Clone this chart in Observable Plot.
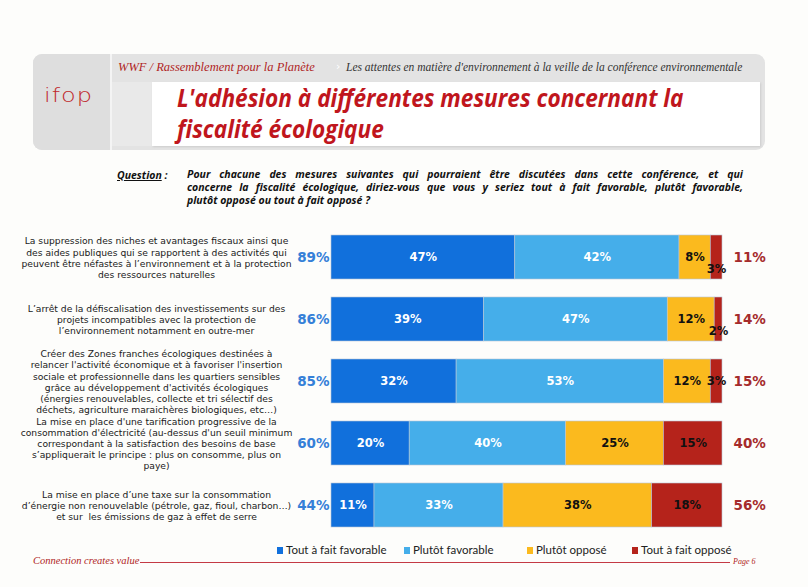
<!DOCTYPE html>
<html>
<head>
<meta charset="utf-8">
<script src="https://cdn.jsdelivr.net/npm/d3@7"></script>
<script src="https://cdn.jsdelivr.net/npm/@observablehq/plot@0.6"></script>
<style>
  html, body { margin: 0; padding: 0; background: #fdfdfb; }
  #page { position: relative; width: 808px; height: 587px; overflow: hidden; }
  .abs { position: absolute; }
  #hdr { left: 33px; top: 54px; width: 732px; height: 96px; background: #e3e3e3; border-radius: 9px; }
  #leftcol { left: 33px; top: 54px; width: 77px; height: 96px; background: #dedede; border-radius: 9px 0 0 9px; border-right: 2px solid #f4f4f4; }
  #logo { left: 44px; top: 84px; font-family: "DejaVu Sans", sans-serif; font-weight: 200; font-size: 24px; color: #c0282c; letter-spacing: 1px; transform: scaleY(0.8); transform-origin: left top; }
  #strip1 { left: 118px; top: 60px; font-family: "Liberation Serif", serif; font-style: italic; font-size: 12.5px; color: #b01e24; }
  #strip2 { left: 346px; top: 61px; font-family: "Liberation Serif", serif; font-style: italic; font-size: 11.5px; color: #333; }
  #sep { left: 336px; top: 60px; font-size: 11px; color: #fff; font-family: "DejaVu Sans"; }
  #graybox { left: 112px; top: 82px; width: 40px; height: 64px; background: #e9e9e9; }
  #whitebox { left: 152px; top: 82px; width: 608px; height: 64px; background: #fff; box-shadow: 1px 1px 2px #ccc; }
  #title { left: 177px; top: 82px; font-family: "Open Sans", sans-serif; font-weight: 700; font-style: italic; font-size: 25px; line-height: 31px; color: #c0161d; transform: scaleX(0.905); transform-origin: left top; white-space: nowrap; }
  #qlabel { left: 117px; top: 168px; font-family: "Open Sans", sans-serif; font-weight: 700; font-style: italic; font-size: 10.5px; color: #111; }
  #qlabel u { text-decoration: underline; }
  #qtext { left: 187px; top: 168px; width: 556px; font-family: "Open Sans", sans-serif; font-weight: 700; font-style: italic; font-size: 10.5px; line-height: 13px; color: #111; }
  #qtext div { text-align: justify; text-align-last: justify; white-space: nowrap; }
  #qtext div.last { text-align-last: left; }
  #plot { left: 0; top: 220px; }
  #legend { left: 0; top: 543px; width: 808px; font-family: Lato, sans-serif; font-size: 11.5px; color: #222; }
  .lg { position: absolute; white-space: nowrap; }
  .sw { display: inline-block; width: 6px; height: 7px; margin-right: 3px; vertical-align: 0px; }
  #footl { left: 33px; top: 555px; font-family: "Liberation Serif", serif; font-style: italic; font-size: 10.5px; color: #b01e24; }
  #footline { left: 140px; top: 562px; width: 590px; height: 1px; background: #c43a45; }
  #footr { left: 733px; top: 557px; font-family: "Liberation Serif", serif; font-style: italic; font-size: 8px; color: #b01e24; }
</style>
</head>
<body>
<div id="page">
  <div id="hdr" class="abs"></div>
  <div id="leftcol" class="abs"></div>
  <div id="logo" class="abs">ifop</div>
  <div id="strip1" class="abs">WWF / Rassemblement pour la Planète</div>
  <div id="sep" class="abs">›</div>
  <div id="strip2" class="abs">Les attentes en matière d'environnement à la veille de la conférence environnementale</div>
  <div id="graybox" class="abs"></div>
  <div id="whitebox" class="abs"></div>
  <div id="title" class="abs">L'adhésion à différentes mesures concernant la<br>fiscalité écologique</div>
  <div id="qlabel" class="abs"><u>Question</u> :</div>
  <div id="qtext" class="abs">
    <div>Pour chacune des mesures suivantes qui pourraient être discutées dans cette conférence, et qui</div>
    <div>concerne la fiscalité écologique, diriez-vous que vous y seriez tout à fait favorable, plutôt favorable,</div>
    <div class="last">plutôt opposé ou tout à fait opposé ?</div>
  </div>
  <div id="plot" class="abs"></div>
  <div id="legend" class="abs"></div>
  <div id="footl" class="abs">Connection creates value</div>
  <div id="footline" class="abs"></div>
  <div id="footr" class="abs">Page 6</div>
</div>
<script>
const categories = [
  "La suppression des niches et avantages fiscaux ainsi que\ndes aides publiques qui se rapportent à des activités qui\npeuvent être néfastes à l’environnement et à la protection\ndes ressources naturelles",
  "L’arrêt de la défiscalisation des investissements sur des\nprojets incompatibles avec la protection de\nl’environnement notamment en outre-mer",
  "Créer des Zones franches écologiques destinées à\nrelancer l'activité économique et à favoriser l'insertion\nsociale et professionnelle dans les quartiers sensibles\ngrâce au développement d'activités écologiques\n(énergies renouvelables, collecte et tri sélectif des\ndéchets, agriculture maraichères biologiques, etc…)",
  "La mise en place d'une tarification progressive de la\nconsommation d'électricité (au-dessus d'un seuil minimum\ncorrespondant à la satisfaction des besoins de base\ns’appliquerait le principe : plus on consomme, plus on\npaye)",
  "La mise en place d’une taxe sur la consommation\nd’énergie non renouvelable (pétrole, gaz, fioul, charbon…)\net sur  les émissions de gaz à effet de serre"
];
const seriesNames = ["Tout à fait favorable", "Plutôt favorable", "Plutôt opposé", "Tout à fait opposé"];
const seriesColors = ["#1170dc", "#45aeea", "#fbba1e", "#b5231b"];
const toutFavorable = [47, 39, 32, 20, 11];
const plutotFavorable = [42, 47, 53, 40, 33];
const plutotOppose = [8, 12, 12, 25, 38];
const toutOppose = [3, 2, 3, 15, 18];
const totalFavorable = [89, 86, 85, 60, 44];
const totalOppose = [11, 14, 15, 40, 56];

const seriesValues = [toutFavorable, plutotFavorable, plutotOppose, toutOppose];
const segs = [];
categories.forEach((cat, i) => {
  let acc = 0;
  seriesValues.forEach((vals, s) => {
    const v = vals[i];
    segs.push({cat, row: i, series: seriesNames[s], s, value: v, x1: acc, x2: acc + v, mid: acc + v / 2});
    acc += v;
  });
});
const totals = categories.map((cat, i) => ({cat, fav: totalFavorable[i], opp: totalOppose[i]}));

const plot = Plot.plot({
  width: 808,
  height: 322,
  marginLeft: 331,
  marginRight: 86,
  marginTop: 0,
  marginBottom: 0,
  x: {domain: [0, 100], axis: null},
  y: {domain: categories, axis: null, paddingInner: 0.2857, paddingOuter: 0.2},
  color: {domain: seriesNames, range: seriesColors},
  style: {background: "transparent", overflow: "visible"},
  marks: [
    Plot.barX(segs, {x1: "x1", x2: "x2", y: "cat", fill: "series", stroke: "#b9c6d6", strokeWidth: 0.6}),
    Plot.text(segs.filter(d => d.s < 2), {x: "mid", y: "cat", text: d => d.value + "%", fill: "white", fontFamily: "DejaVu Sans", fontWeight: "bold", fontSize: 11.5}),
    Plot.text(segs.filter(d => d.s >= 2 && !(d.value < 5 && d.row < 2)), {x: "mid", y: "cat", text: d => d.value + "%", fill: "#111", fontFamily: "DejaVu Sans", fontWeight: "bold", fontSize: 11.5}),
    Plot.text(segs.filter(d => d.s >= 2 && d.value < 5 && d.row < 2), {x: "mid", y: "cat", dy: 12, text: d => d.value + "%", fill: "#111", fontFamily: "DejaVu Sans", fontWeight: "bold", fontSize: 11.5}),
    Plot.text(totals, {x: 0, y: "cat", text: d => d.fav + "%", textAnchor: "end", dx: -2, fill: "#3580d8", fontFamily: "DejaVu Sans", fontWeight: "bold", fontSize: 13.5}),
    Plot.text(totals, {x: 100, y: "cat", text: d => d.opp + "%", textAnchor: "start", dx: 11, fill: "#a52b2b", fontFamily: "DejaVu Sans", fontWeight: "bold", fontSize: 13.5}),
    Plot.text(totals, {x: 0, y: "cat", text: "cat", textAnchor: "middle", dx: -175, lineHeight: 1.2, fill: "#1a1a1a", fontFamily: "DejaVu Sans", fontSize: 9.2})
  ]
});
document.getElementById("plot").appendChild(plot);

const legendX = [277, 404, 527, 632];
const legend = document.getElementById("legend");
seriesNames.forEach((name, i) => {
  const el = document.createElement("div");
  el.className = "lg";
  el.style.left = legendX[i] + "px";
  el.innerHTML = `<span class="sw" style="background:${seriesColors[i]}"></span>${name}`;
  legend.appendChild(el);
});
</script>
</body>
</html>
